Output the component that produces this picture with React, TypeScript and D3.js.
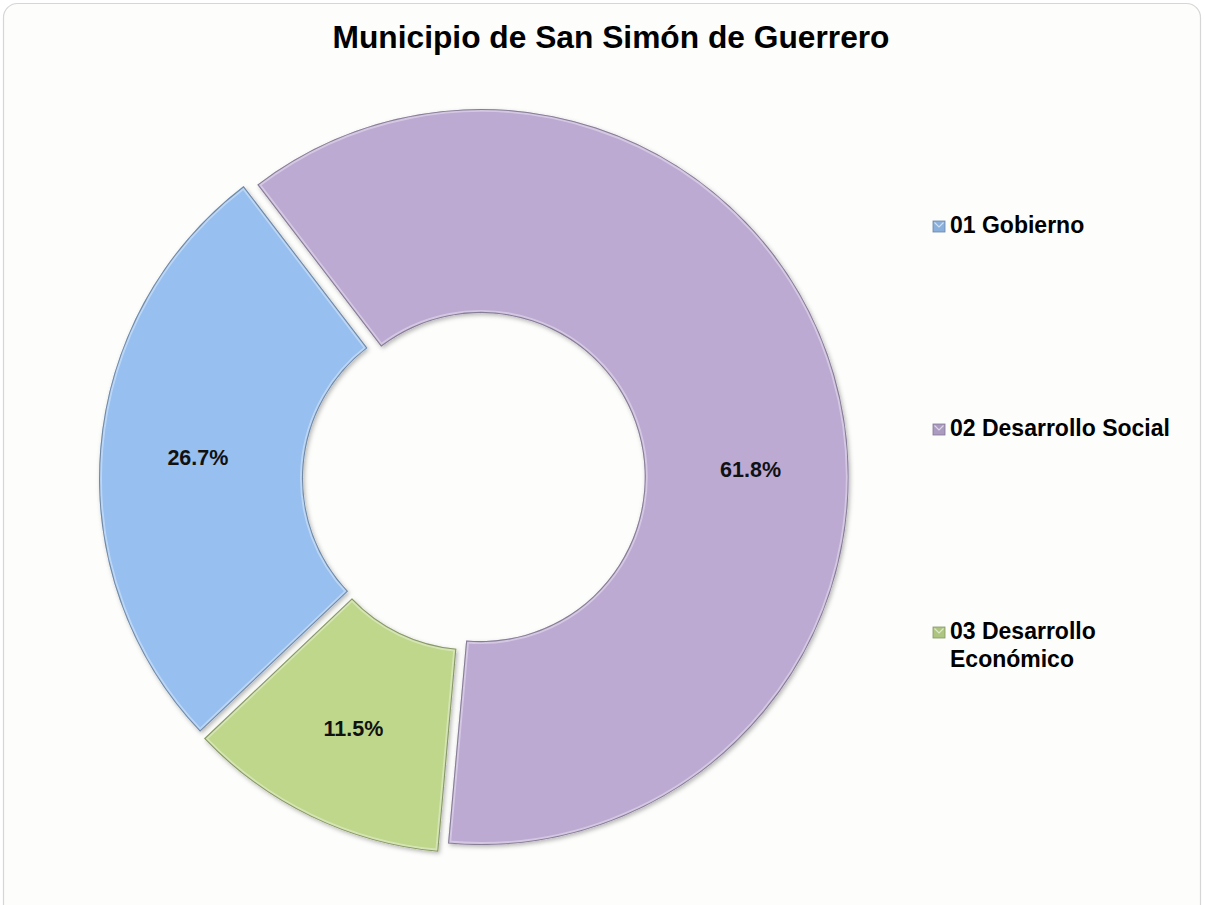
import React, { useEffect, useRef } from 'react';
import * as d3 from 'd3';

// values
const categories = ['01 Gobierno', '02 Desarrollo Social', '03 Desarrollo Económico'];
const shares = [26.7, 61.8, 11.5];
const sliceColors = ['#97bfef', '#bcaad3', '#bed78b'];
const title = 'Municipio de San Simón de Guerrero';

interface Slice {
  name: string;
  value: number;
  color: string;
}

const App: React.FC = () => {
  const svgRef = useRef<SVGSVGElement>(null);
  const width = 1206;
  const height = 905;

  useEffect(() => {
    if (!svgRef.current) return;
    const svg = d3.select(svgRef.current);
    svg.selectAll('*').remove();

    const data: Slice[] = categories.map((name, i) => ({
      name,
      value: shares[i],
      color: sliceColors[i],
    }));

    // chart area background + faint rounded frame
    svg.append('rect')
      .attr('width', width)
      .attr('height', height)
      .attr('fill', '#ffffff');
    svg.append('rect')
      .attr('x', 3.5)
      .attr('y', 3.5)
      .attr('width', 1197)
      .attr('height', 930)
      .attr('rx', 14)
      .attr('fill', '#fdfdfc')
      .attr('stroke', '#d6d6d6')
      .attr('stroke-width', 1.2);

    const defs = svg.append('defs');
    const shadow = defs.append('filter')
      .attr('id', 'sliceShadow')
      .attr('x', '-10%')
      .attr('y', '-10%')
      .attr('width', '120%')
      .attr('height', '120%');
    shadow.append('feDropShadow')
      .attr('dx', 1.5)
      .attr('dy', 2)
      .attr('stdDeviation', 2)
      .attr('flood-color', '#000')
      .attr('flood-opacity', 0.28);

    // title
    svg.append('text')
      .attr('x', 611)
      .attr('y', 48)
      .attr('text-anchor', 'middle')
      .attr('textLength', 557)
      .attr('lengthAdjust', 'spacingAndGlyphs')
      .style('font-family', '"Liberation Sans", Arial, sans-serif')
      .style('font-weight', 'bold')
      .style('font-size', '32px')
      .attr('fill', '#000')
      .text(title);

    // donut
    const cx = 474;
    const cy = 479;
    const rOuter = 368;
    const rInner = 164;
    const explode = 7;
    const start = (226.5 * Math.PI) / 180;

    const pie = d3.pie<Slice>()
      .sort(null)
      .value((d) => d.value)
      .startAngle(start)
      .endAngle(start + 2 * Math.PI);

    const arc = d3.arc<d3.PieArcDatum<Slice>>()
      .innerRadius(rInner)
      .outerRadius(rOuter);

    const arcs = pie(data);
    const chart = svg.append('g').attr('transform', `translate(${cx},${cy})`);

    const slices = chart.selectAll('.slice')
      .data(arcs)
      .enter()
      .append('g')
      .attr('class', 'slice')
      .attr('transform', (d) => {
        const mid = (d.startAngle + d.endAngle) / 2;
        return `translate(${Math.sin(mid) * explode},${-Math.cos(mid) * explode})`;
      });

    slices.append('clipPath')
      .attr('id', (d, i) => `clip-${i}`)
      .append('path')
      .attr('d', arc);

    slices.append('path')
      .attr('d', arc)
      .attr('fill', (d) => d.data.color)
      .attr('filter', 'url(#sliceShadow)');

    // soft bevel: light band inside the edge, then a darker rim
    slices.append('path')
      .attr('d', arc)
      .attr('fill', 'none')
      .attr('clip-path', (d, i) => `url(#clip-${i})`)
      .attr('stroke', '#ffffff')
      .attr('stroke-opacity', 0.35)
      .attr('stroke-width', 6);

    slices.append('path')
      .attr('d', arc)
      .attr('fill', 'none')
      .attr('clip-path', (d, i) => `url(#clip-${i})`)
      .attr('stroke', (d) => d3.color(d.data.color)!.darker(1.5).formatHex())
      .attr('stroke-opacity', 0.75)
      .attr('stroke-width', 2.2);

    // percentage labels
    const labelR = (rInner + rOuter) / 2 + 4;
    slices.append('text')
      .attr('transform', (d) => {
        let a = (d.startAngle + d.endAngle) / 2;
        // large slices get their label pushed to the open side, as Excel does
        if (d.endAngle - d.startAngle > Math.PI) a = Math.PI / 2 - 0.03;
        return `translate(${Math.sin(a) * labelR},${-Math.cos(a) * labelR})`;
      })
      .attr('dy', '0.36em')
      .attr('text-anchor', 'middle')
      .style('font-family', '"Liberation Sans", Arial, sans-serif')
      .style('font-weight', 'bold')
      .style('font-size', '21.5px')
      .attr('fill', '#111')
      .text((d) => `${d.data.value.toFixed(1)}%`);

    // legend
    const legendX = 933;
    const yScale = d3.scalePoint<string>()
      .domain(categories)
      .range([218, 624]);

    const legend = svg.append('g').attr('class', 'legend');
    const items = legend.selectAll('.item')
      .data(data)
      .enter()
      .append('g')
      .attr('class', 'item')
      .attr('transform', (d) => `translate(${legendX},${yScale(d.name)})`);

    items.append('rect')
      .attr('x', 0)
      .attr('y', 3)
      .attr('width', 12)
      .attr('height', 11)
      .attr('fill', (d) => d3.color(d.color)!.darker(0.25).formatHex())
      .attr('stroke', (d) => d3.color(d.color)!.darker(1).formatHex())
      .attr('stroke-width', 0.8);
    items.append('path')
      .attr('d', 'M1.5,4.5 L6,9 L10.5,4.5')
      .attr('fill', 'none')
      .attr('stroke', '#ffffff')
      .attr('stroke-opacity', 0.6)
      .attr('stroke-width', 1.2);

    const maxWidth = 245;
    items.each(function (d) {
      const text = d3.select(this)
        .append('text')
        .attr('x', 17)
        .attr('y', 15)
        .style('font-family', '"Liberation Sans", Arial, sans-serif')
        .style('font-weight', 'bold')
        .style('font-size', '23px')
        .attr('fill', '#000');
      const words = d.name.split(' ');
      let line: string[] = [];
      let tspan = text.append('tspan').attr('x', 17).attr('dy', 0);
      words.forEach((w) => {
        line.push(w);
        tspan.text(line.join(' '));
        const node = tspan.node() as SVGTSpanElement;
        if (node.getComputedTextLength() > maxWidth && line.length > 1) {
          line.pop();
          tspan.text(line.join(' '));
          line = [w];
          tspan = text.append('tspan').attr('x', 17).attr('dy', 28).text(w);
        }
      });
    });
  }, []);

  return (
    <svg
      ref={svgRef}
      width={width}
      height={height}
      style={{ position: 'absolute', left: 0, top: 0, display: 'block' }}
      viewBox={`0 0 ${width} ${height}`}
    />
  );
};

export default App;
